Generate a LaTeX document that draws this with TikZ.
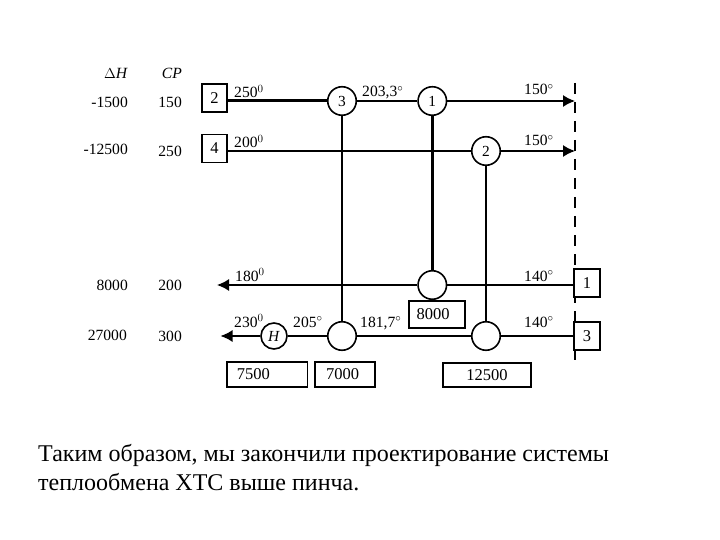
\documentclass[tikz,border=0pt]{standalone}
\usepackage{fontspec}
\setmainfont{Liberation Serif}
\usetikzlibrary{arrows.meta}
\tikzset{
 lab/.style={font=\fontsize{15.6}{17}\selectfont,inner sep=0pt},
 hx/.style={draw,circle,line width=1.6pt,minimum size=28.5pt,inner sep=0pt,fill=white,font=\fontsize{15.4}{17}\selectfont},
 bx/.style={draw,line width=1.6pt,inner sep=0pt,fill=white,font=\fontsize{16.5}{18}\selectfont},
 st/.style={line width=1.5pt},
 thickst/.style={line width=3pt},
 arr/.style={-{Latex[length=12pt,width=12pt]}},
 para/.style={font=\fontsize{24}{29}\selectfont,inner sep=0pt,anchor=base west}
}
\begin{document}
\begin{tikzpicture}[x=1pt,y=-1pt]
\useasboundingbox (0,0) rectangle (720,540);
\fill[white] (0,0) rectangle (720,540);
% headers and data
\node[lab,anchor=east] (hh) at (128,73) {$\Delta$\textit{H}};
\node[lab,anchor=east] (hc) at (182,73) {\textit{CP}};
\node[lab,anchor=east] (a1) at (128,102) {-1500};
\node[lab,anchor=east] (b1) at (182,102) {150};
\node[lab,anchor=east] (a2) at (128,149) {-12500};
\node[lab,anchor=east] (b2) at (182,151) {250};
\node[lab,anchor=east] (a3) at (128,285) {8000};
\node[lab,anchor=east] (b3) at (182,285) {200};
\node[lab,anchor=east] (a4) at (127,335) {27000};
\node[lab,anchor=east] (b4) at (182,336) {300};
% coordinates
\coordinate (t1) at (575,101);
\coordinate (t2) at (575,151);
\coordinate (t3) at (217,285);
\coordinate (t4) at (220.5,336);
\coordinate (dt) at (575,83);
\coordinate (db) at (575,360);
\draw[line width=2pt,dash pattern=on 11pt off 8pt] (dt) -- (db);
% nodes
\node[hx] (e3) at (342,101) {3};
\node[hx] (e1) at (432.3,101) {1};
\node[hx] (e2) at (486,151) {2};
\node[hx] (c1) at (432.3,285) {};
\node[hx] (c3) at (342,336) {};
\node[hx] (c2) at (486,336) {};
\node[hx,minimum size=26pt] (h) at (274,336) {\textit{H}};
\node[bx,minimum width=24.5pt,minimum height=28pt] (s2) at (214.5,98) {2};
\node[bx,minimum width=24.5pt,minimum height=28pt] (s4) at (214.5,148.5) {4};
\node[bx,minimum width=26pt,minimum height=28pt] (s1) at (587,283) {1};
\node[bx,minimum width=26pt,minimum height=28pt] (s3) at (587,336) {3};
\node[bx,minimum width=56pt,minimum height=27pt] (q8) at (437,314.5) {8000\rule{8pt}{0pt}};
\node[bx,minimum width=80.5pt,minimum height=25pt] (q75) at (267.3,374.5) {7500\rule{28pt}{0pt}};
\node[bx,minimum width=60.5pt,minimum height=25pt] (q7) at (345,374.5) {7000\rule{5pt}{0pt}};
\node[bx,minimum width=88pt,minimum height=24pt] (q12) at (487,375) {12500};
% connectors
\draw[thickst] (s2.east |- e3.west) -- (e3.west);
\draw[st] (e3) -- (e1);
\draw[st,arr] (e1) -- (t1);
\draw[st] (s4.east |- e2) -- (e2);
\draw[st,arr] (e2) -- (t2);
\draw[st,arr] (c1) -- (t3);
\draw[st] (c1) -- (s1.west |- c1);
\draw[st,arr] (h) -- (t4);
\draw[st] (h) -- (c3);
\draw[st] (c3) -- (c2);
\draw[st] (c2) -- (s3);
\draw[st] (e3) -- (c3);
\draw[thickst] (e1) -- (c1);
\draw[st] (e2) -- (c2);
% stream labels
\node[lab,anchor=base west] (l1) at (234,98) {250$^{0}$};
\node[lab,anchor=base west] (l2) at (362,97) {203,3$^{\circ}$};
\node[lab,anchor=base west] (l3) at (524,95) {150$^{\circ}$};
\node[lab,anchor=base west] (l4) at (234,147.5) {200$^{0}$};
\node[lab,anchor=base west] (l5) at (524,146) {150$^{\circ}$};
\node[lab,anchor=base west] (l6) at (235,281) {180$^{0}$};
\node[lab,anchor=base west] (l7) at (524,281) {140$^{\circ}$};
\node[lab,anchor=base west] (l8) at (234,327) {230$^{0}$};
\node[lab,anchor=base west] (l9) at (293,327) {205$^{\circ}$};
\node[lab,anchor=base west] (l10) at (360,327) {181,7$^{\circ}$};
\node[lab,anchor=base west] (l11) at (524,327) {140$^{\circ}$};
% paragraph
\node[para] (p1) at (38,461) {Таким образом, мы закончили проектирование системы};
\node[para] (p2) at (38,490) {теплообмена ХТС выше пинча.};
\end{tikzpicture}
\end{document}
